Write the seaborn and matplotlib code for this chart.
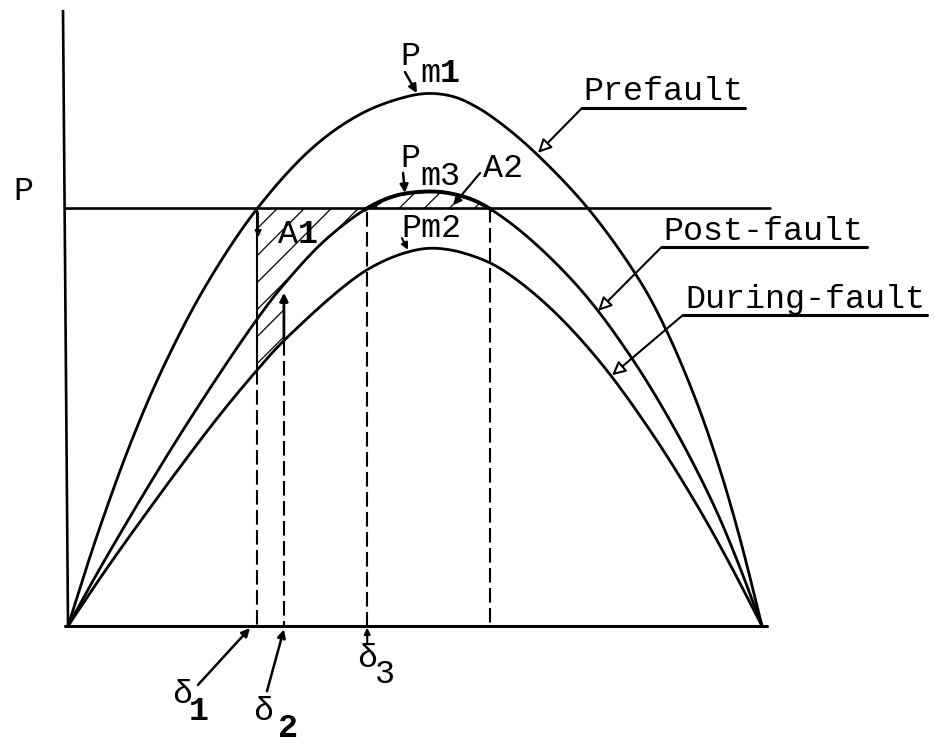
import numpy as np
import matplotlib
matplotlib.use("Agg")
import matplotlib.pyplot as plt
import seaborn as sns
from matplotlib.patches import PathPatch

# Power-angle curves (delta in electrical degrees, P in per unit of the mechanical input)
delta_prefault = [0, 7.78, 16.86, 25.16, 35.79, 49.02, 63.54, 75.73, 86.11, 93.37, 100.11,
                  106.08, 112.31, 120.86, 134.87, 148.10, 155.10, 162.88, 169.10, 174.29, 180]
p_prefault = [0, 0.223, 0.452, 0.628, 0.815, 0.998, 1.145, 1.224, 1.262, 1.274, 1.266,
              1.241, 1.202, 1.135, 0.999, 0.829, 0.709, 0.540, 0.374, 0.209, 0]

delta_postfault = [0, 9.60, 29.57, 49.02, 56.80, 66.92, 77.55, 84.81, 92.07, 97.78, 104.27,
                   109.45, 119.31, 133.31, 146.28, 157.69, 167.29, 172.99, 180]
p_postfault = [0, 0.159, 0.465, 0.734, 0.826, 0.925, 0.999, 1.029, 1.039, 1.037, 1.022,
               0.998, 0.930, 0.801, 0.640, 0.466, 0.293, 0.170, 0]

delta_during = [0, 11.67, 36.83, 49.02, 56.80, 77.55, 90.52, 98.30, 108.67, 115.68, 126.31,
                138.50, 151.47, 162.88, 170.92, 180]
p_during = [0, 0.159, 0.475, 0.612, 0.690, 0.852, 0.900, 0.901, 0.872, 0.833, 0.750,
            0.626, 0.461, 0.293, 0.161, 0]

p_mech = 1.0          # mechanical input power line
delta_1 = 49.0        # fault inception
delta_2 = 56.0        # fault clearing
delta_3 = 77.6        # post-fault equilibrium crossing
delta_max = 109.5     # maximum swing

curve_names = ["Prefault", "Post-fault", "During-fault"]

sns.set_theme(style="white")
plt.rcParams["font.family"] = ["Liberation Mono", "DejaVu Sans Mono"]

fig = plt.figure(figsize=(9.35, 7.44), dpi=100)
ax = fig.add_axes([0, 0, 1, 1])
ax.set_xlim(-17.64, 224.87)
ax.set_ylim(-0.2823, 1.4976)
ax.axis("off")

K = "black"
FS = 24
ASPECT = 418.0 / 3.856   # screen pixels per P unit over pixels per degree


def smooth_path(x, y, steps=16):
    """Centripetal Catmull-Rom path through the given points (screen-proportional)."""
    pts = np.column_stack([np.asarray(x, float), np.asarray(y, float) * ASPECT])
    pts = np.vstack([2 * pts[0] - pts[1], pts, 2 * pts[-1] - pts[-2]])
    out = []
    for i in range(1, len(pts) - 2):
        p0, p1, p2, p3 = pts[i - 1], pts[i], pts[i + 1], pts[i + 2]
        t0 = 0.0
        t1 = t0 + np.linalg.norm(p1 - p0) ** 0.5
        t2 = t1 + np.linalg.norm(p2 - p1) ** 0.5
        t3 = t2 + np.linalg.norm(p3 - p2) ** 0.5
        t = np.linspace(t1, t2, steps, endpoint=False)[:, None]
        a1 = (t1 - t) / (t1 - t0) * p0 + (t - t0) / (t1 - t0) * p1
        a2 = (t2 - t) / (t2 - t1) * p1 + (t - t1) / (t2 - t1) * p2
        a3 = (t3 - t) / (t3 - t2) * p2 + (t - t2) / (t3 - t2) * p3
        b1 = (t2 - t) / (t2 - t0) * a1 + (t - t0) / (t2 - t0) * a2
        b2 = (t3 - t) / (t3 - t1) * a2 + (t - t1) / (t3 - t1) * a3
        out.append((t2 - t) / (t2 - t1) * b1 + (t - t1) / (t2 - t1) * b2)
    out.append(pts[-2][None, :])
    out = np.vstack(out)
    return out[:, 0], out[:, 1] / ASPECT


# axes
ax.plot([-1.3, 0], [1.474, 0], color=K, lw=1.9, solid_capstyle="butt")
ax.plot([-0.8, 181.3], [0, 0], color=K, lw=2.2)
ax.plot([-0.8, 182.1], [p_mech, p_mech], color=K, lw=1.9)

# the three power-angle curves
smooth_curves = []
for d, p in [(delta_prefault, p_prefault), (delta_postfault, p_postfault),
             (delta_during, p_during)]:
    sx, sy = smooth_path(d, p)
    smooth_curves.append((sx, sy))
    sns.lineplot(x=sx, y=sy, color=K, lw=2.0, estimator=None, sort=False, ax=ax)

# heavier stroke on the post-fault cap above the input line
px_, py_ = smooth_curves[1]
cap = (px_ >= delta_3 - 1) & (px_ <= delta_max + 1)
ax.plot(px_[cap], py_[cap], color=K, lw=2.8, solid_capstyle="round")

# hatched equal areas
slope = 1.0 / ASPECT  # 45 degrees on screen


def hatch(xs, lower, upper, spacing=7.0, phase=0.0):
    poly = ax.fill_between(xs, lower, upper, facecolor="none", edgecolor="none")
    patch = PathPatch(poly.get_paths()[0], transform=ax.transData,
                      facecolor="none", edgecolor="none")
    ax.add_patch(patch)
    for c in np.arange(xs.min() - 140 + phase, xs.max() + spacing, spacing):
        ln, = ax.plot([c, c + 160], [0, 160 * slope], color=K, lw=0.9)
        ln.set_clip_path(patch)


sd_during, sp_during = smooth_curves[2]
sd_post, sp_post = smooth_curves[1]
xs1 = np.linspace(delta_1, delta_3, 300)
low1 = np.where(xs1 < delta_2, np.interp(xs1, sd_during, sp_during),
                np.interp(xs1, sd_post, sp_post))
hatch(xs1, low1, np.full_like(xs1, p_mech), phase=2.0)

xs2 = np.linspace(delta_3, delta_max, 300)
up2 = np.maximum(np.interp(xs2, sd_post, sp_post), p_mech)
hatch(xs2, np.full_like(xs2, p_mech), up2, spacing=6.5, phase=1.0)

# vertical construction lines
dash = (0, (7, 2.6))
p_d1_during = np.interp(delta_1, sd_during, sp_during)
p_d2_during = np.interp(delta_2, sd_during, sp_during)
p_d2_post = np.interp(delta_2, sd_post, sp_post)
ax.plot([delta_1, delta_1], [p_mech, p_d1_during], color=K, lw=1.5)
ax.plot([delta_1, delta_1], [p_d1_during, 0], color=K, lw=1.5, linestyle=dash)
ax.plot([delta_2, delta_2], [p_d2_during, 0], color=K, lw=1.5, linestyle=dash)
ax.annotate("", xy=(delta_2, p_d2_post - 0.02), xytext=(delta_2, p_d2_during),
            arrowprops=dict(arrowstyle="-|>", color=K, lw=2.0, mutation_scale=12,
                            shrinkA=0, shrinkB=0))
ax.plot([delta_3, delta_3], [p_mech - 0.01, 0], color=K, lw=1.5, linestyle=dash)
ax.plot([delta_max, delta_max], [p_mech, 0], color=K, lw=1.5, linestyle=dash)

# trajectory arrowheads
ax.annotate("", xy=(delta_1 + 0.3, 0.93), xytext=(delta_1 + 0.3, 0.99),
            arrowprops=dict(arrowstyle="-|>", color=K, lw=1.2, mutation_scale=10,
                            shrinkA=0, shrinkB=0))
ax.annotate("", xy=(delta_3 + 0.5, 1.0), xytext=(delta_3 + 3.5, 1.012),
            arrowprops=dict(arrowstyle="-|>", color=K, lw=1.2, mutation_scale=9,
                            shrinkA=0, shrinkB=0))

# curve labels with underlines and leaders
labels = [
    (curve_names[0], (133.6, 1.258), (133.3, 175.6, 1.239), (121.9, 1.132)),
    (curve_names[1], (154.3, 0.923), (154.0, 207.2, 0.907), (137.5, 0.754)),
    (curve_names[2], (160.0, 0.761), (159.5, 222.8, 0.744), (141.1, 0.600)),
]
for name, (tx, ty), (ua, ub, uy), tip in labels:
    ax.text(tx, ty, name, fontsize=FS, ha="left", va="baseline", color=K)
    ax.plot([ua, ub], [uy, uy], color=K, lw=2.2)
    ax.annotate("", xy=tip, xytext=(ua, uy),
                arrowprops=dict(arrowstyle="-|>", fc="white", ec=K, lw=1.5,
                                mutation_scale=20, shrinkA=0, shrinkB=0))

# P axis label
ax.text(-14.3, 1.019, "P", fontsize=FS, ha="left", va="baseline", color=K)

# peak labels
ax.text(86.1, 1.342, "P", fontsize=FS, ha="left", va="baseline", color=K)
ax.text(91.3, 1.301, "m", fontsize=FS, ha="left", va="baseline", color=K)
ax.text(96.5, 1.301, "1", fontsize=FS, ha="left", va="baseline", color=K, fontweight="bold")
ax.annotate("", xy=(90.5, 1.275), xytext=(87.4, 1.325),
            arrowprops=dict(arrowstyle="-|>", color=K, lw=1.8, mutation_scale=12,
                            shrinkA=0, shrinkB=0))

ax.text(86.1, 1.098, "P", fontsize=FS, ha="left", va="baseline", color=K)
ax.text(91.3, 1.055, "m3", fontsize=FS, ha="left", va="baseline", color=K)
ax.annotate("", xy=(87.4, 1.036), xytext=(86.9, 1.084),
            arrowprops=dict(arrowstyle="-|>", color=K, lw=1.8, mutation_scale=12,
                            shrinkA=0, shrinkB=0))

ax.text(86.4, 0.931, "Pm2", fontsize=FS, ha="left", va="baseline", color=K)
ax.annotate("", xy=(88.2, 0.900), xytext=(86.6, 0.928),
            arrowprops=dict(arrowstyle="-|>", color=K, lw=1.5, mutation_scale=10,
                            shrinkA=0, shrinkB=0))

# area labels
ax.text(107.6, 1.074, "A2", fontsize=FS, ha="left", va="baseline", color=K)
ax.annotate("", xy=(99.9, 1.007), xytext=(106.9, 1.084),
            arrowprops=dict(arrowstyle="-|>", color=K, lw=1.5, mutation_scale=12,
                            shrinkA=0, shrinkB=0))
ax.text(54.5, 0.916, "A", fontsize=FS, ha="left", va="baseline", color=K)
ax.text(59.7, 0.916, "1", fontsize=FS, ha="left", va="baseline", color=K, fontweight="bold")

# angle labels on the delta axis
ax.text(27.0, -0.184, "δ", fontsize=FS, ha="left", va="baseline", color=K)
ax.text(31.4, -0.225, "1", fontsize=FS, ha="left", va="baseline", color=K, fontweight="bold")
ax.annotate("", xy=(47.2, -0.005), xytext=(33.7, -0.141),
            arrowprops=dict(arrowstyle="-|>", color=K, lw=1.8, mutation_scale=12,
                            shrinkA=0, shrinkB=0))
ax.text(48.0, -0.226, "δ", fontsize=FS, ha="left", va="baseline", color=K)
ax.text(54.5, -0.265, "2", fontsize=FS, ha="left", va="baseline", color=K, fontweight="bold")
ax.annotate("", xy=(56.0, -0.008), xytext=(51.6, -0.156),
            arrowprops=dict(arrowstyle="-|>", color=K, lw=1.8, mutation_scale=12,
                            shrinkA=0, shrinkB=0))
ax.text(75.0, -0.098, "δ", fontsize=FS, ha="left", va="baseline", color=K)
ax.text(79.6, -0.136, "3", fontsize=FS, ha="left", va="baseline", color=K)
ax.annotate("", xy=(77.6, -0.004), xytext=(77.6, -0.04),
            arrowprops=dict(arrowstyle="-|>", color=K, lw=1.5, mutation_scale=9,
                            shrinkA=0, shrinkB=0))

fig.savefig("out.png", dpi=100, facecolor="white")
